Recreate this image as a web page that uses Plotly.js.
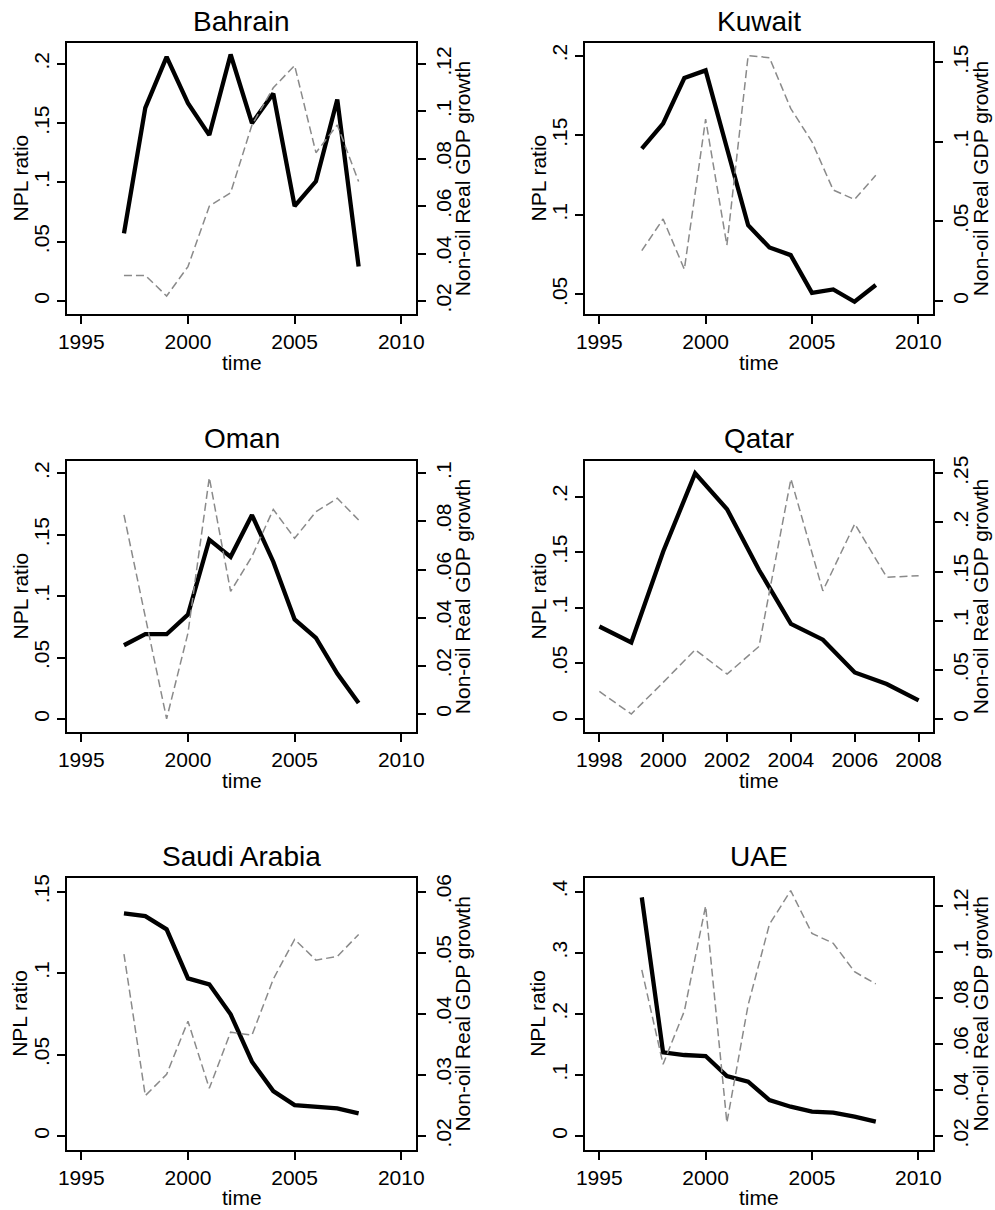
<!DOCTYPE html>
<html>
<head>
<meta charset="utf-8">
<script src="https://cdn.plot.ly/plotly-3.0.1.min.js"></script>
<style>
html,body{margin:0;padding:0;background:#fff;}
#chart{width:995px;height:1210px;}
</style>
</head>
<body>
<div id="chart"></div>
<script>
// ---- Data ----
const years = [1997, 1998, 1999, 2000, 2001, 2002, 2003, 2004, 2005, 2006, 2007, 2008];
const qatarYears = [1998, 1999, 2000, 2001, 2002, 2003, 2004, 2005, 2006, 2007, 2008];

const countries = ["Bahrain", "Kuwait", "Oman", "Qatar", "Saudi Arabia", "UAE"];

const bahrainNPL = [0.057, 0.163, 0.206, 0.167, 0.140, 0.208, 0.150, 0.175, 0.080, 0.101, 0.170, 0.029];
const bahrainGDP = [0.0308, 0.0308, 0.0221, 0.0345, 0.060, 0.0657, 0.0943, 0.110, 0.1194, 0.0826, 0.0943, 0.0704];

const kuwaitNPL = [0.1416, 0.1573, 0.186, 0.1908, 0.142, 0.0935, 0.0795, 0.0747, 0.051, 0.0531, 0.0454, 0.0559];
const kuwaitGDP = [0.0316, 0.0515, 0.0199, 0.1142, 0.0351, 0.1542, 0.1529, 0.121, 0.100, 0.0697, 0.0638, 0.079];

const omanNPL = [0.060, 0.069, 0.069, 0.085, 0.146, 0.132, 0.166, 0.128, 0.081, 0.066, 0.037, 0.013];
const omanGDP = [0.0827, 0.041, -0.002, 0.0336, 0.0982, 0.0509, 0.0654, 0.085, 0.073, 0.084, 0.0896, 0.0806];

const qatarNPL = [0.0832, 0.0689, 0.1506, 0.221, 0.1886, 0.134, 0.0856, 0.0713, 0.0419, 0.0314, 0.0168];
const qatarGDP = [0.0281, 0.0051, 0.0373, 0.0705, 0.0457, 0.0738, 0.2442, 0.1304, 0.1985, 0.1443, 0.1457];

const saudiNPL = [0.1367, 0.135, 0.1269, 0.0968, 0.0931, 0.0747, 0.0456, 0.0276, 0.019, 0.018, 0.017, 0.0139];
const saudiGDP = [0.0498, 0.0266, 0.0301, 0.0388, 0.0278, 0.037, 0.0365, 0.0457, 0.0522, 0.0488, 0.0494, 0.053];

const uaeNPL = [0.3907, 0.137, 0.1326, 0.131, 0.0982, 0.089, 0.0589, 0.048, 0.0398, 0.0382, 0.0317, 0.0235];
const uaeGDP = [0.0922, 0.0512, 0.0743, 0.12, 0.0258, 0.077, 0.112, 0.1267, 0.1081, 0.1038, 0.0914, 0.0861];

// ---- Tick values / labels ----
const xTicks = [1995, 2000, 2005, 2010];
const xTickText = ["1995", "2000", "2005", "2010"];
const qatarXTicks = [1998, 2000, 2002, 2004, 2006, 2008];
const qatarXTickText = ["1998", "2000", "2002", "2004", "2006", "2008"];

const bahrainLeftTicks = [0, 0.05, 0.1, 0.15, 0.2];
const bahrainLeftText = ["0", ".05", ".1", ".15", ".2"];
const bahrainRightTicks = [0.02, 0.04, 0.06, 0.08, 0.1, 0.12];
const bahrainRightText = [".02", ".04", ".06", ".08", ".1", ".12"];

const kuwaitLeftTicks = [0.05, 0.1, 0.15, 0.2];
const kuwaitLeftText = [".05", ".1", ".15", ".2"];
const kuwaitRightTicks = [0, 0.05, 0.1, 0.15];
const kuwaitRightText = ["0", ".05", ".1", ".15"];

const omanLeftTicks = [0, 0.05, 0.1, 0.15, 0.2];
const omanLeftText = ["0", ".05", ".1", ".15", ".2"];
const omanRightTicks = [0, 0.02, 0.04, 0.06, 0.08, 0.1];
const omanRightText = ["0", ".02", ".04", ".06", ".08", ".1"];

const qatarLeftTicks = [0, 0.05, 0.1, 0.15, 0.2];
const qatarLeftText = ["0", ".05", ".1", ".15", ".2"];
const qatarRightTicks = [0, 0.05, 0.1, 0.15, 0.2, 0.25];
const qatarRightText = ["0", ".05", ".1", ".15", ".2", ".25"];

const saudiLeftTicks = [0, 0.05, 0.1, 0.15];
const saudiLeftText = ["0", ".05", ".1", ".15"];
const saudiRightTicks = [0.02, 0.03, 0.04, 0.05, 0.06];
const saudiRightText = [".02", ".03", ".04", ".05", ".06"];

const uaeLeftTicks = [0, 0.1, 0.2, 0.3, 0.4];
const uaeLeftText = ["0", ".1", ".2", ".3", ".4"];
const uaeRightTicks = [0.02, 0.04, 0.06, 0.08, 0.1, 0.12];
const uaeRightText = [".02", ".04", ".06", ".08", ".1", ".12"];

const leftTitle = "NPL ratio";
const rightTitle = "Non-oil Real GDP growth";
const xTitle = "time";

// ---- Panel configuration (layout only) ----
const panels = [
  {x: years, npl: bahrainNPL, gdp: bahrainGDP, xt: xTicks, xtt: xTickText, xr: [1994.33, 2010.69],
   lt: bahrainLeftTicks, ltt: bahrainLeftText, lr: [-0.011, 0.2177],
   rt: bahrainRightTicks, rtt: bahrainRightText, rr: [0.0145, 0.1289]},
  {x: years, npl: kuwaitNPL, gdp: kuwaitGDP, xt: xTicks, xtt: xTickText, xr: [1994.33, 2010.69],
   lt: kuwaitLeftTicks, ltt: kuwaitLeftText, lr: [0.0377, 0.208],
   rt: kuwaitRightTicks, rtt: kuwaitRightText, rr: [-0.0082, 0.1621]},
  {x: years, npl: omanNPL, gdp: omanGDP, xt: xTicks, xtt: xTickText, xr: [1994.33, 2010.69],
   lt: omanLeftTicks, ltt: omanLeftText, lr: [-0.0106, 0.210],
   rt: omanRightTicks, rtt: omanRightText, rr: [-0.0075, 0.1051]},
  {x: qatarYears, npl: qatarNPL, gdp: qatarGDP, xt: qatarXTicks, xtt: qatarXTickText, xr: [1997.55, 2008.45],
   lt: qatarLeftTicks, ltt: qatarLeftText, lr: [-0.0117, 0.232],
   rt: qatarRightTicks, rtt: qatarRightText, rr: [-0.0132, 0.2625]},
  {x: years, npl: saudiNPL, gdp: saudiGDP, xt: xTicks, xtt: xTickText, xr: [1994.33, 2010.69],
   lt: saudiLeftTicks, ltt: saudiLeftText, lr: [-0.0086, 0.1586],
   rt: saudiRightTicks, rtt: saudiRightText, rr: [0.0177, 0.0623]},
  {x: years, npl: uaeNPL, gdp: uaeGDP, xt: xTicks, xtt: xTickText, xr: [1994.33, 2010.69],
   lt: uaeLeftTicks, ltt: uaeLeftText, lr: [-0.0229, 0.4229],
   rt: uaeRightTicks, rtt: uaeRightText, rr: [0.0139, 0.1323]}
];

const W = 995, H = 1210;
const colX = [[67, 416], [585, 933]];
const rowY = [[43, 314], [461, 732], [877.7, 1150]];
const FONT = "Liberation Sans, Arial, Helvetica, sans-serif";

const traces = [];
const layout = {
  width: W, height: H,
  margin: {l: 0, r: 0, t: 0, b: 0},
  paper_bgcolor: "#ffffff",
  plot_bgcolor: "#ffffff",
  showlegend: false,
  font: {family: FONT, color: "#000", size: 21},
  annotations: []
};

panels.forEach((p, i) => {
  const n = i + 1;
  const col = i % 2, row = Math.floor(i / 2);
  const [x0, x1] = colX[col];
  const [y0, y1] = rowY[row];
  const xa = "x" + (n === 1 ? "" : n);
  const yl = 2 * n - 1, yr = 2 * n;
  const ylName = "y" + (yl === 1 ? "" : yl);
  const yrName = "y" + yr;

  traces.push({
    x: p.x, y: p.npl, type: "scatter", mode: "lines",
    xaxis: xa, yaxis: ylName,
    line: {color: "#000", width: 4.3}, hoverinfo: "skip"
  });
  traces.push({
    x: p.x, y: p.gdp, type: "scatter", mode: "lines",
    xaxis: xa, yaxis: yrName,
    line: {color: "#8a8a8a", width: 1.5, dash: "8px,4px"}, hoverinfo: "skip"
  });

  const common = {
    showgrid: false, zeroline: false, showline: true, linecolor: "#000", linewidth: 2,
    ticks: "outside", ticklen: 8, tickwidth: 2, tickcolor: "#000",
    tickfont: {family: FONT, size: 21, color: "#000"}, fixedrange: true
  };

  layout["xaxis" + (n === 1 ? "" : n)] = Object.assign({}, common, {
    domain: [x0 / W, x1 / W], anchor: ylName, range: p.xr,
    tickmode: "array", tickvals: p.xt, ticktext: p.xtt, mirror: true
  });
  layout["yaxis" + (yl === 1 ? "" : yl)] = Object.assign({}, common, {
    domain: [1 - y1 / H, 1 - y0 / H], anchor: xa, range: p.lr,
    tickmode: "array", tickvals: p.lt, ticktext: p.ltt, tickangle: -90, side: "left"
  });
  layout["yaxis" + yr] = Object.assign({}, common, {
    domain: [1 - y1 / H, 1 - y0 / H], anchor: xa, overlaying: ylName, range: p.rr,
    tickmode: "array", tickvals: p.rt, ticktext: p.rtt, tickangle: -90, side: "right"
  });

  const off = row === 0 ? 0 : (row === 1 ? 418 : 835.5);
  const xoff = col === 0 ? 0 : 518;
  const cx = (x0 + x1) / 2;
  // panel title
  layout.annotations.push({
    text: countries[i], xref: "paper", yref: "paper",
    x: cx / W, y: 1 - (21 + off) / H, xanchor: "center", yanchor: "middle",
    showarrow: false, font: {family: FONT, size: 28, color: "#000"}
  });
  // left y title
  layout.annotations.push({
    text: leftTitle, xref: "paper", yref: "paper", textangle: -90,
    x: (20 + xoff) / W, y: 1 - ((y0 + y1) / 2) / H, xanchor: "center", yanchor: "middle",
    showarrow: false, font: {family: FONT, size: 21, color: "#000"}
  });
  // right y title
  layout.annotations.push({
    text: rightTitle, xref: "paper", yref: "paper", textangle: -90,
    x: (462.7 + xoff) / W, y: 1 - ((y0 + y1) / 2) / H, xanchor: "center", yanchor: "middle",
    showarrow: false, font: {family: FONT, size: 21, color: "#000"}
  });
  // x title
  layout.annotations.push({
    text: xTitle, xref: "paper", yref: "paper",
    x: cx / W, y: 1 - (362 + off) / H, xanchor: "center", yanchor: "middle",
    showarrow: false, font: {family: FONT, size: 21, color: "#000"}
  });
});

Plotly.newPlot("chart", traces, layout, {staticPlot: true, displayModeBar: false});
</script>
</body>
</html>
